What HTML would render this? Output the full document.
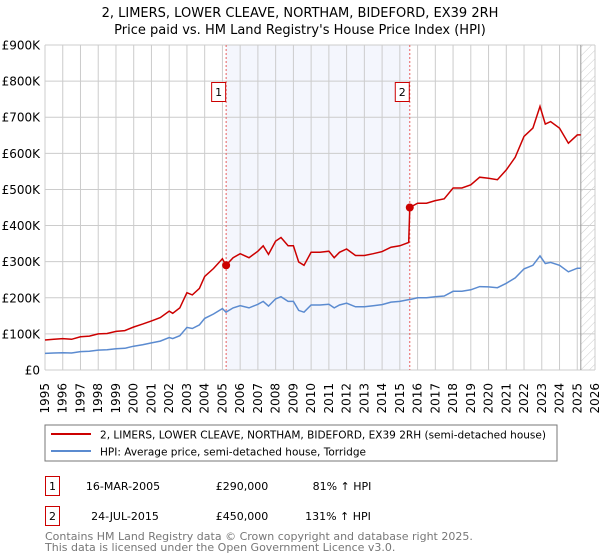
<!DOCTYPE html>
<html><head><meta charset="utf-8"><style>
body{margin:0;background:#fff;font-family:"DejaVu Sans","Liberation Sans",sans-serif;}
svg{display:block}
</style></head><body>
<svg id="chart" width="600" height="560" xmlns="http://www.w3.org/2000/svg">
<text x="300" y="17" text-anchor="middle" font-size="13">2, LIMERS, LOWER CLEAVE, NORTHAM, BIDEFORD, EX39 2RH</text>
<text x="300" y="34" text-anchor="middle" font-size="13">Price paid vs. HM Land Registry's House Price Index (HPI)</text>
<defs><pattern id="hatch" width="6" height="6" patternUnits="userSpaceOnUse" patternTransform="rotate(45)"><line x1="0" y1="0" x2="0" y2="6" stroke="#ccc" stroke-width="1"/></pattern></defs>
<g id="plot"></g>
<rect x="45" y="425" width="512" height="36" fill="none" stroke="#777"/>
<line x1="51" y1="434" x2="91" y2="434" stroke="#cc0000" stroke-width="2"/>
<text x="100" y="438.5" font-size="11" textLength="446" lengthAdjust="spacingAndGlyphs">2, LIMERS, LOWER CLEAVE, NORTHAM, BIDEFORD, EX39 2RH (semi-detached house)</text>
<line x1="51" y1="451" x2="91" y2="451" stroke="#5b8bd0" stroke-width="2"/>
<text x="100" y="455.5" font-size="11" textLength="266" lengthAdjust="spacingAndGlyphs">HPI: Average price, semi-detached house, Torridge</text>
<rect x="45.5" y="476.5" width="14" height="19" fill="none" stroke="#cc0000"/>
<text x="52.5" y="490" text-anchor="middle" font-size="11">1</text>
<text x="123" y="490" text-anchor="middle" font-size="11">16-MAR-2005</text>
<text x="242" y="490" text-anchor="middle" font-size="11">£290,000</text>
<text x="342" y="490" text-anchor="middle" font-size="11">81% ↑ HPI</text>
<rect x="45.5" y="506.5" width="14" height="19" fill="none" stroke="#cc0000"/>
<text x="52.5" y="520" text-anchor="middle" font-size="11">2</text>
<text x="125" y="520" text-anchor="middle" font-size="11">24-JUL-2015</text>
<text x="242" y="520" text-anchor="middle" font-size="11">£450,000</text>
<text x="338" y="520" text-anchor="middle" font-size="11">131% ↑ HPI</text>
<text x="45" y="540" font-size="11" fill="#777">Contains HM Land Registry data © Crown copyright and database right 2025.</text>
<text x="45" y="551" font-size="11" fill="#777">This data is licensed under the Open Government Licence v3.0.</text>
</svg>
<script>
const years=[1995,1995.5,1996,1996.5,1997,1997.5,1998,1998.5,1999,1999.5,2000,2000.5,2001,2001.5,2002,2002.2,2002.6,2003,2003.3,2003.7,2004,2004.5,2005,2005.2,2005.6,2006,2006.5,2007,2007.3,2007.6,2008,2008.3,2008.7,2009,2009.3,2009.6,2010,2010.5,2011,2011.3,2011.6,2012,2012.5,2013,2013.5,2014,2014.5,2015,2015.5,2015.56,2016,2016.5,2017,2017.5,2018,2018.5,2019,2019.5,2020,2020.5,2021,2021.5,2022,2022.5,2022.9,2023.2,2023.5,2024,2024.5,2025,2025.2];
const hpiValues=[46,47,48,47,51,52,55,56,59,60,66,70,75,80,90,87,95,118,115,125,143,155,170,160,172,178,172,182,190,177,197,203,190,190,165,160,180,180,182,172,180,185,175,175,178,181,188,190,195,195,200,200,203,205,218,218,222,231,230,228,240,255,280,290,316,295,298,290,272,282,282];
const propertyValues=[83,85,87,85,92,94,100,101,107,109,119,127,136,145,163,157,172,214,208,226,259,281,308,290,311,322,311,329,344,320,357,367,344,344,299,290,326,326,329,311,326,335,317,317,322,328,340,344,353,450,462,462,469,474,504,504,513,534,531,527,554,589,647,670,730,681,688,670,628,651,651];
const saleDates=[2005.21,2015.56];
const salePrices=[290,450];
const saleLabels=["1","2"];
const yTicks=[0,100,200,300,400,500,600,700,800,900];
const yTickLabels=["£0","£100K","£200K","£300K","£400K","£500K","£600K","£700K","£800K","£900K"];
const xTicks=[1995,1996,1997,1998,1999,2000,2001,2002,2003,2004,2005,2006,2007,2008,2009,2010,2011,2012,2013,2014,2015,2016,2017,2018,2019,2020,2021,2022,2023,2024,2025,2026];
const dataEnd=2025.2;

const X0=45,X1=595,Y0=370,Y1=45;
const xs=t=>X0+(t-1995)/(2026-1995)*(X1-X0);
const ys=v=>Y0-v/900*(Y0-Y1);
const NS="http://www.w3.org/2000/svg";
const g=document.getElementById('plot');
function mk(tag,attrs){const e=document.createElementNS(NS,tag);for(const k in attrs)e.setAttribute(k,attrs[k]);g.appendChild(e);return e;}

let e=mk('rect',{x:xs(saleDates[0]),y:Y1,width:xs(saleDates[1])-xs(saleDates[0]),height:Y0-Y1,fill:'#f4f6fd'});


e=mk('rect',{x:xs(dataEnd),y:Y1,width:X1-xs(dataEnd),height:Y0-Y1,fill:'url(#hatch)'});


xTicks.forEach(t=>{
  const l=mk('line',{x1:xs(t),x2:xs(t),y1:Y1,y2:Y0,stroke:'#ccc','stroke-width':1});
  
  
  const x=xs(t)+4,y=383;
  const tx=mk('text',{x:x,y:y,'font-size':12,'text-anchor':'end',transform:`rotate(-90 ${x} ${y})`});
  tx.textContent=t;
  
  
});
yTicks.forEach((v,i)=>{
  const l=mk('line',{x1:X0,x2:X1,y1:ys(v),y2:ys(v),stroke:'#ccc','stroke-width':1});
  
  
  const tx=mk('text',{x:40,y:ys(v)+4.5,'font-size':12,'text-anchor':'end'});
  tx.textContent=yTickLabels[i];
  
  
});
e=mk('line',{x1:xs(dataEnd),x2:xs(dataEnd),y1:Y1,y2:Y0,stroke:'#999','stroke-width':1});


saleDates.forEach((d,i)=>{
  const l=mk('line',{x1:xs(d),x2:xs(d),y1:Y1,y2:Y0,stroke:'#e86060','stroke-width':1,'stroke-dasharray':'2,2'});
  
  
  const r=mk('rect',{x:xs(d)-14.5,y:82.5,width:14,height:19,fill:'#fff',stroke:'#cc0000'});
  
  
  const tx=mk('text',{x:xs(d)-7.5,y:96,'font-size':11,'text-anchor':'middle'});
  tx.textContent=saleLabels[i];
  
  
});
const path=vals=>vals.map((v,i)=>(i?'L':'M')+xs(years[i]).toFixed(1)+','+ys(v).toFixed(1)).join('');
e=mk('path',{d:path(hpiValues),fill:'none',stroke:'#5b8bd0','stroke-width':1.5});


e=mk('path',{d:path(propertyValues),fill:'none',stroke:'#cc0000','stroke-width':1.5});


saleDates.forEach((d,i)=>{
  const c=mk('circle',{cx:xs(d),cy:ys(salePrices[i]),r:4,fill:'#cc0000'});
  
  
});
</script>
</body></html>
